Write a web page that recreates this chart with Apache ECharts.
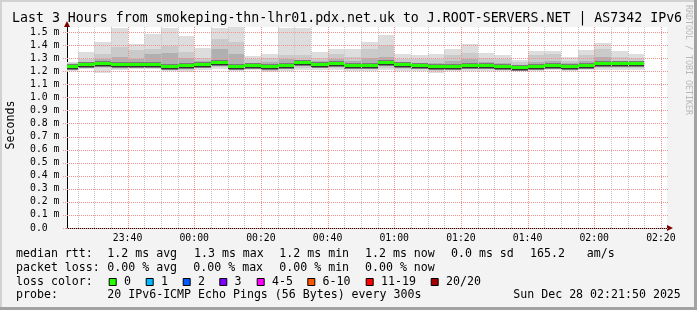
<!DOCTYPE html>
<html><head><meta charset="utf-8">
<script src="https://cdn.jsdelivr.net/npm/echarts@6/dist/echarts.min.js"></script>
<style>html,body{margin:0;padding:0;background:#f3f3f3}#c{width:697px;height:310px}</style>
</head><body><div id="c"></div>
<script>
// ---------- data ----------
const titleText = 'Last 3 Hours from smokeping-thn-lhr01.pdx.net.uk to J.ROOT-SERVERS.NET | AS7342 IPv6';
const axisStart = '23:21:50';
const axisEnd = '02:21:50';
const slotEnd = ['23:25','23:30','23:35','23:40','23:45','23:50','23:55','00:00','00:05','00:10','00:15','00:20','00:25','00:30','00:35','00:40','00:45','00:50','00:55','01:00','01:05','01:10','01:15','01:20','01:25','01:30','01:35','01:40','01:45','01:50','01:55','02:00','02:05','02:10','02:15'];
const maxRtt = [1.27,1.344,1.423,1.528,1.405,1.487,1.53,1.471,1.38,1.53,1.535,1.316,1.329,1.53,1.53,1.347,1.37,1.37,1.423,1.479,1.331,1.324,1.331,1.372,1.405,1.341,1.324,1.285,1.357,1.357,1.306,1.362,1.418,1.357,1.331];
const p90Rtt = [1.262,1.29,1.33,1.387,1.36,1.37,1.395,1.35,1.30,1.45,1.42,1.29,1.30,1.32,1.32,1.30,1.33,1.31,1.37,1.40,1.29,1.29,1.29,1.32,1.34,1.30,1.29,1.27,1.32,1.33,1.28,1.32,1.37,1.31,1.30];
const p75Rtt = [1.25,1.265,1.29,1.31,1.29,1.33,1.34,1.30,1.275,1.37,1.33,1.265,1.27,1.29,1.285,1.275,1.29,1.28,1.30,1.31,1.27,1.265,1.26,1.275,1.29,1.27,1.265,1.25,1.27,1.28,1.26,1.28,1.31,1.28,1.275];
const medianRtt = [1.234,1.247,1.257,1.249,1.247,1.247,1.234,1.24,1.249,1.26,1.234,1.24,1.234,1.242,1.26,1.249,1.257,1.242,1.242,1.26,1.249,1.242,1.234,1.234,1.242,1.24,1.232,1.227,1.234,1.24,1.232,1.24,1.252,1.252,1.255];
const p25Rtt = [1.225,1.235,1.24,1.235,1.235,1.235,1.222,1.225,1.235,1.245,1.225,1.23,1.22,1.23,1.24,1.235,1.24,1.23,1.23,1.24,1.235,1.23,1.22,1.22,1.23,1.228,1.222,1.218,1.225,1.23,1.222,1.23,1.237,1.238,1.24];
const p10Rtt = [1.215,1.225,1.225,1.22,1.225,1.225,1.21,1.21,1.225,1.23,1.215,1.22,1.205,1.22,1.225,1.225,1.225,1.22,1.22,1.225,1.22,1.215,1.20,1.21,1.22,1.215,1.21,1.21,1.215,1.22,1.212,1.22,1.225,1.225,1.228];
const minRtt = [1.205,1.214,1.188,1.21,1.217,1.215,1.20,1.196,1.21,1.215,1.205,1.21,1.196,1.205,1.21,1.21,1.21,1.205,1.205,1.21,1.205,1.20,1.184,1.20,1.205,1.205,1.20,1.20,1.205,1.208,1.20,1.208,1.21,1.21,1.21];
const lossCount = [0,0,0,0,0,0,0,0,0,0,0,0,0,0,0,0,0,0,0,0,0,0,0,0,0,0,0,0,0,0,0,0,0,0,0];
const xLabels = ['23:40','00:00','00:20','00:40','01:00','01:20','01:40','02:00','02:20'];
const xMinorGrid = ['23:25','23:30','23:35','23:45','23:50','23:55','00:05','00:10','00:15','00:25','00:30','00:35','00:45','00:50','00:55','01:05','01:10','01:15','01:25','01:30','01:35','01:45','01:50','01:55','02:05','02:10','02:15'];
const yTicks = [0,0.1,0.2,0.3,0.4,0.5,0.6,0.7,0.8,0.9,1.0,1.1,1.2,1.3,1.4,1.5];
const yMaxVal = 1.538;
const lossLabels = ['0','1','2','3','4-5','6-10','11-19','20/20'];
const lossColors = ['#26ff00','#00b8ff','#0059ff','#7e00ff','#ff00ff','#ff5500','#ff0000','#a10000'];
const rttStats = ['1.2 ms avg','1.3 ms max','1.2 ms min','1.2 ms now','0.0 ms sd','165.2','am/s'];
const lossStats = ['0.00 % avg','0.00 % max','0.00 % min','0.00 % now'];
const probeText = '20 IPv6-ICMP Echo Pings (56 Bytes) every 300s';
const dateText = 'Sun Dec 28 02:21:50 2025';

// ---------- helpers ----------
const FONT = 'DejaVu Sans Mono';
const toMin = s => { const p = s.split(':').map(Number); const h = p[0] < 12 ? p[0] + 24 : p[0]; return h * 60 + p[1] + (p[2] || 0) / 60; };
const xMin = toMin(axisStart), xMax = toMin(axisEnd);
const SLOT = 5;
const smokeData = slotEnd.map((t, i) => [toMin(t), maxRtt[i], p90Rtt[i], p75Rtt[i], medianRtt[i], p25Rtt[i], p10Rtt[i], minRtt[i], lossCount[i]]);
const gridItems = [];
xMinorGrid.forEach(t => gridItems.push({ dir: 'v', v: toMin(t), major: false }));
xLabels.forEach(t => gridItems.push({ dir: 'v', v: toMin(t), major: true }));
yTicks.forEach(v => gridItems.push({ dir: 'h', v: v, major: true }));
const MAJ = '#f39090', MINC = '#c4c4c4';

function smokeItem(params, api) {
  const end = api.value(0);
  const xa = Math.round(api.coord([end - SLOT, 0])[0]);
  const xb = Math.round(api.coord([end, 0])[0]);
  const y = v => Math.round(api.coord([end, v])[1]);
  const band = (hi, lo, color) => ({ type: 'rect', shape: { x: xa, y: y(hi), width: xb - xa, height: Math.max(1, y(lo) - y(hi)) }, style: { fill: color } });
  const med = y(api.value(4));
  return {
    type: 'group',
    children: [
      band(api.value(1), api.value(7), '#dddddd'),
      band(api.value(2), api.value(6), '#cacaca'),
      band(api.value(3), api.value(5), '#b0b0b0'),
      { type: 'rect', shape: { x: xa, y: med - 3, width: xb - xa, height: 6 }, style: { fill: '#7a7a7a' } },
      { type: 'rect', shape: { x: xa, y: med + 1, width: xb - xa, height: 1 }, style: { fill: '#333333' } }
    ]
  };
}
function medianItem(params, api) {
  const end = api.value(0);
  const xa = Math.round(api.coord([end - SLOT, 0])[0]);
  const xb = Math.round(api.coord([end, 0])[0]);
  const med = Math.round(api.coord([end, api.value(4)])[1]);
  const loss = api.value(8);
  const ci = loss === 0 ? 0 : loss === 1 ? 1 : loss === 2 ? 2 : loss === 3 ? 3 : loss <= 5 ? 4 : loss <= 10 ? 5 : loss <= 19 ? 6 : 7;
  return { type: 'rect', shape: { x: xa, y: med - 2, width: xb - xa, height: 3 }, style: { fill: lossColors[ci] } };
}
function gridItem(params, api) {
  const g = gridItems[params.dataIndex];
  const cs = params.coordSys;
  const color = g.major ? MAJ : MINC;
  if (g.dir === 'v') {
    const x = Math.round(api.coord([g.v, 0])[0]) + 0.5;
    return { type: 'line', silent: true, shape: { x1: x, y1: cs.y, x2: x, y2: cs.y + cs.height }, style: { stroke: color, lineWidth: 1, lineDash: [1, 1] } };
  }
  const yy = Math.round(api.coord([xMin, g.v])[1]) + 0.5;
  return { type: 'line', silent: true, shape: { x1: cs.x - 4, y1: yy, x2: cs.x + cs.width + 1, y2: yy }, style: { stroke: color, lineWidth: 1, lineDash: [1, 1] } };
}

// ---------- graphics (text, frame, legend) ----------
const txt = (x, y, s, size, extra) => Object.assign({ type: 'text', x: x, y: y, silent: true, style: { text: s, font: size + 'px "' + FONT + '"', fill: '#000', textAlign: 'left', textVerticalAlign: 'middle' } }, extra || {});
const LF = 11.6;
const graphics = [
  { type: 'rect', shape: { x: 0, y: 0, width: 697, height: 2 }, style: { fill: '#d2d2d2' }, silent: true },
  { type: 'rect', shape: { x: 0, y: 0, width: 2, height: 310 }, style: { fill: '#d2d2d2' }, silent: true },
  { type: 'rect', shape: { x: 694, y: 0, width: 3, height: 310 }, style: { fill: '#a2a2a2' }, silent: true },
  { type: 'rect', shape: { x: 0, y: 307, width: 697, height: 3 }, style: { fill: '#a2a2a2' }, silent: true },
  txt(12, 19, titleText, 13.25),
  txt(10.5, 125, 'Seconds', LF, { rotation: Math.PI / 2, style: { text: 'Seconds', font: LF + 'px "' + FONT + '"', fill: '#000', textAlign: 'center', textVerticalAlign: 'middle' } }),
  { type: 'text', x: 688, y: 5, rotation: -Math.PI / 2, silent: true, style: { text: 'RRDTOOL / TOBI OETIKER', font: '8.3px "' + FONT + '"', fill: '#b8b8b8', textAlign: 'left', textVerticalAlign: 'middle' } },
  { type: 'polygon', shape: { points: [[64, 27], [70, 27], [67, 21]] }, style: { fill: '#800000' }, silent: true },
  { type: 'polygon', shape: { points: [[667, 225], [667, 231], [673, 228]] }, style: { fill: '#800000' }, silent: true }
];
// legend rows
const rowY = [254.3, 268, 282, 295.3];
const rttX = [107.3, 194, 279.3, 365, 451, 530, 586.7];
const lossX = [107.3, 193.3, 279.3, 365];
const boxX = [108.7, 145.7, 182.7, 219.3, 256.7, 307.3, 365.7, 430.7];
graphics.push(txt(16, rowY[0], 'median rtt:', LF));
rttStats.forEach((s, i) => graphics.push(txt(rttX[i], rowY[0], s, LF)));
graphics.push(txt(16, rowY[1], 'packet loss:', LF));
lossStats.forEach((s, i) => graphics.push(txt(lossX[i], rowY[1], s, LF)));
graphics.push(txt(16, rowY[2], 'loss color:', LF));
lossLabels.forEach((s, i) => {
  graphics.push({ type: 'rect', silent: true, shape: { x: boxX[i] + 0.5, y: rowY[2] - 3.5, width: 7, height: 7 }, style: { fill: lossColors[i], stroke: '#000', lineWidth: 1 } });
  graphics.push(txt(boxX[i] + 15.3, rowY[2], s, LF));
});
graphics.push(txt(16, rowY[3], 'probe:', LF));
graphics.push(txt(107.3, rowY[3], probeText, LF));
graphics.push(txt(513.3, rowY[3], dateText, LF));

// ---------- chart ----------
const chart = echarts.init(document.getElementById('c'), null, { renderer: 'canvas' });
chart.setOption({
  animation: false,
  backgroundColor: '#f3f3f3',
  grid: { left: 67, top: 27, width: 600, height: 201, show: true, backgroundColor: '#ffffff', borderWidth: 0 },
  xAxis: {
    type: 'value', min: xMin, max: xMax,
    axisLine: { show: true, lineStyle: { color: '#000', width: 1 } },
    axisTick: { show: false },
    splitLine: { show: false },
    axisLabel: {
      customValues: xLabels.map(toMin),
      formatter: v => { const i = xLabels.map(toMin).findIndex(m => Math.abs(m - v) < 1e-6); return i >= 0 ? xLabels[i] : ''; },
      fontFamily: FONT, fontSize: 9.8, color: '#000', margin: 5
    }
  },
  yAxis: {
    type: 'value', min: 0, max: yMaxVal,
    axisLine: { show: true, lineStyle: { color: '#000', width: 1 } },
    axisTick: { show: false },
    splitLine: { show: false },
    axisLabel: {
      customValues: yTicks,
      formatter: v => v === 0 ? '0.0' : v.toFixed(1) + ' m',
      fontFamily: FONT, fontSize: 9.8, color: '#000', align: 'left', margin: 37
    }
  },
  series: [
    { type: 'custom', name: 'smoke', renderItem: smokeItem, data: smokeData, clip: true, z: 1, silent: true, encode: { x: 0, y: 4 } },
    { type: 'custom', name: 'grid', renderItem: gridItem, data: gridItems.map(g => g.dir === 'v' ? [g.v, 0] : [xMin, g.v]), clip: false, z: 2, silent: true, encode: { x: 0, y: 1 } },
    { type: 'custom', name: 'median', renderItem: medianItem, data: smokeData, clip: true, z: 3, silent: true, encode: { x: 0, y: 4 } }
  ],
  graphic: graphics
});
</script></body></html>
